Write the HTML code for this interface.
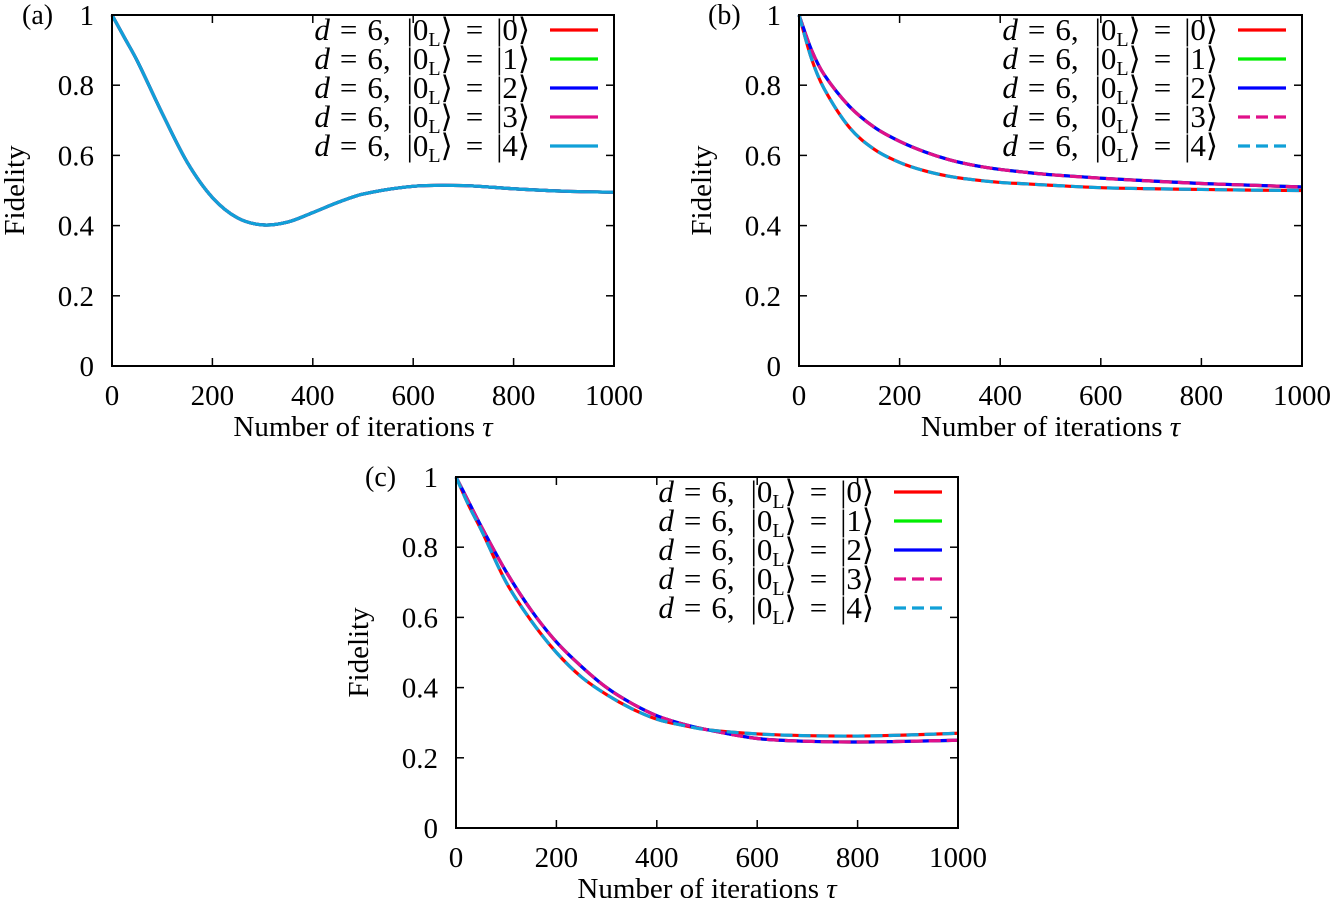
<!DOCTYPE html>
<html><head><meta charset="utf-8"><style>
body{margin:0;background:#fff}
svg{display:block;font-family:"Liberation Serif",serif}
</style></head><body>
<svg id="c" width="1335" height="898"></svg>
<script>
const xs = [0,25,50,100,150,200,250,300,350,400,450,500,600,700,800,900,1000];
const aVals = [1,0.935,0.87,0.72,0.58,0.48,0.422,0.402,0.41,0.437,0.466,0.49,0.512,0.514,0.505,0.498,0.495];
const bUpper = [1,0.9,0.83,0.74,0.68,0.64,0.61,0.587,0.571,0.56,0.552,0.545,0.535,0.527,0.52,0.515,0.51];
const bLower = [1,0.875,0.79,0.68,0.617,0.58,0.556,0.54,0.53,0.523,0.519,0.515,0.508,0.505,0.503,0.501,0.50];
const cUpper = [1,0.93,0.86,0.73,0.62,0.53,0.46,0.40,0.355,0.32,0.297,0.28,0.255,0.247,0.245,0.247,0.25];
const cLower = [1,0.92,0.85,0.70,0.59,0.50,0.43,0.38,0.34,0.31,0.293,0.28,0.268,0.263,0.262,0.265,0.27];
const xTicks = [0,200,400,600,800,1000];
const yTicks = [0,0.2,0.4,0.6,0.8,1];
const yTickLabels = ["0","0.2","0.4","0.6","0.8","1"];
const colors = ["#ff0000","#00ee00","#0000ff","#e0108a","#10a0d8"];
const ns="http://www.w3.org/2000/svg";
const svg=document.getElementById('c');
function mk(t,a,p){const e=document.createElementNS(ns,t);for(const k in a)e.setAttribute(k,a[k]);(p||svg).appendChild(e);return e;}
function panel(name,L,T,R,B,label,lx,ly,series,dashed){
  const g=mk('g',{});
  
  
  const sx=v=>L+(v/1000)*(R-L), sy=v=>B-v*(B-T);
  xTicks.forEach(t=>{
    const x=sx(t);
    mk('line',{x1:x,y1:B,x2:x,y2:B-8,stroke:'#000','stroke-width':1.5},g);
    mk('line',{x1:x,y1:T,x2:x,y2:T+8,stroke:'#000','stroke-width':1.5},g);
    const tx=mk('text',{x:x,y:B+39,'font-size':29,'text-anchor':'middle'},g);tx.textContent=t;
    
    
  });
  yTicks.forEach((t,i)=>{
    const y=sy(t);
    mk('line',{x1:L,y1:y,x2:L+8,y2:y,stroke:'#000','stroke-width':1.5},g);
    mk('line',{x1:R,y1:y,x2:R-8,y2:y,stroke:'#000','stroke-width':1.5},g);
    const tx=mk('text',{x:L-18,y:y+10,'font-size':29,'text-anchor':'end'},g);tx.textContent=yTickLabels[i];
    
    
  });
  const xt=mk('text',{x:(L+R)/2,y:B+70,'font-size':29,'text-anchor':'middle'},g);
  xt.innerHTML='Number of iterations <tspan font-style="italic">τ</tspan>';
  
  
  const yt=mk('text',{x:0,y:0,'font-size':29,'text-anchor':'middle',transform:`translate(${L-88},${(T+B)/2}) rotate(-90)`},g);
  yt.textContent='Fidelity';
  
  
  const pl=mk('text',{x:lx,y:ly,'font-size':28},g);pl.textContent=label;
  
  
  series.forEach((s,i)=>{
    const pts=xs.map((x,j)=>[sx(x),sy(s.data[j])]);
    let d=`M${pts[0][0]},${pts[0][1]}`;
    for(let j=0;j<pts.length-1;j++){
      const p0=pts[Math.max(0,j-1)],p1=pts[j],p2=pts[j+1],p3=pts[Math.min(pts.length-1,j+2)];
      const h=(p2[0]-p1[0]);
      const m1=(p2[1]-p0[1])/((p2[0]-p0[0])||1), m2=(p3[1]-p1[1])/((p3[0]-p1[0])||1);
      d+=` C${p1[0]+h/3},${p1[1]+m1*h/3} ${p2[0]-h/3},${p2[1]-m2*h/3} ${p2[0]},${p2[1]}`;
    }
    const p=mk('path',{d:d,fill:'none',stroke:colors[i],'stroke-width':3.2,'stroke-dasharray':(dashed&&i>=3)?'12,6':'none'},g);
    
    
  });
  for(let i=0;i<5;i++){
    const y=T+15+i*29;
    const t=mk('text',{x:R-84,y:y+10,'font-size':31,'text-anchor':'end'},g);
    t.innerHTML=`<tspan font-style="italic">d</tspan><tspan dx="10">=</tspan><tspan dx="10">6,</tspan><tspan dx="16">|0</tspan><tspan font-size="20" dy="6">L</tspan><tspan dy="-6">⟩</tspan><tspan dx="13">=</tspan><tspan dx="13">|${i}⟩</tspan>`;
    
    
    mk('line',{x1:R-64,y1:y,x2:R-16,y2:y,stroke:colors[i],'stroke-width':3.2,'stroke-dasharray':(dashed&&i>=3)?'12,6':'none'},g);
  }
  mk('rect',{x:L,y:T,width:R-L,height:B-T,fill:'none',stroke:'#000','stroke-width':2},g);
}
panel('panel-a',112,15,614,366,'(a)',22,24,[0,1,2,3,4].map(()=>({data:aVals})),false);
panel('panel-b',799,15,1302,366,'(b)',708,24,[{data:bLower},{data:bUpper},{data:bUpper},{data:bUpper},{data:bLower}],true);
panel('panel-c',456,477,958,828,'(c)',365,486,[{data:cLower},{data:cUpper},{data:cUpper},{data:cUpper},{data:cLower}],true);
</script>
</body></html>
